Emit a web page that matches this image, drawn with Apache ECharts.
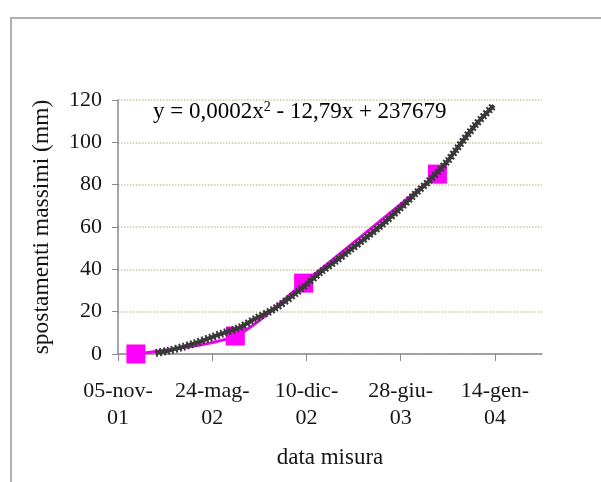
<!DOCTYPE html>
<html>
<head>
<meta charset="utf-8">
<script src="https://cdn.jsdelivr.net/npm/echarts@6/dist/echarts.min.js"></script>
<style>
  html, body { margin: 0; padding: 0; background: #fff; }
  #chart { width: 601px; height: 482px; }
</style>
</head>
<body>
<div id="chart"></div>
<script>
// x values are Excel date serials (37200 = 05-nov-2001)
const misureDate = [37238, 37449, 37594, 37878];
const misureValori = [0, 8.5, 33.5, 85];

// curva di tendenza
const trendDate = [37280, 37306, 37340, 37362, 37400, 37419, 37458, 37490, 37533, 37582,
  37632, 37660, 37692, 37724, 37760, 37795, 37830, 37859, 37901, 37916, 37958, 37998];
const trendValori = [0.5, 1.5, 3.5, 5, 8, 9.5, 12.5, 16.5, 21.5, 29.5,
  39, 43.5, 49, 54.5, 61, 68, 75.5, 81.5, 91.5, 96, 108, 117.5];

const mesi = ['gen', 'feb', 'mar', 'apr', 'mag', 'giu', 'lug', 'ago', 'set', 'ott', 'nov', 'dic'];

function serialToLabel(s) {
  const d = new Date(Date.UTC(1899, 11, 30) + s * 86400000);
  const dd = String(d.getUTCDate()).padStart(2, '0');
  const yy = String(d.getUTCFullYear() % 100).padStart(2, '0');
  return dd + '-' + mesi[d.getUTCMonth()] + '-\n' + yy;
}

const font = "'Liberation Serif', 'Times New Roman', serif";
const testo = '#151515';
const chart = echarts.init(document.getElementById('chart'));

const trendData = trendDate.map((d, i) => [d, trendValori[i]]);

chart.setOption({
  animation: false,
  textStyle: { fontFamily: font },
  grid: { left: 118, right: 59, top: 100, bottom: 128 },
  graphic: [
    {
      type: 'rect',
      shape: { x: 11, y: 18, width: 640, height: 520 },
      style: { fill: 'none', stroke: '#b0b0b0', lineWidth: 2 },
      silent: true
    },
    {
      type: 'text',
      left: 153,
      top: 100,
      style: {
        text: '{t|y = 0,0002x}{s|2}{t| - 12,79x + 237679}',
        rich: {
          t: { fontSize: 23, fontFamily: font, color: testo },
          s: { fontSize: 14, fontFamily: font, color: testo, verticalAlign: 'top', padding: [0, 0, 8, 0] }
        }
      }
    }
  ],
  xAxis: {
    type: 'value',
    min: 37200,
    max: 38100,
    interval: 200,
    name: 'data misura',
    nameLocation: 'middle',
    nameGap: 92,
    nameTextStyle: { fontSize: 23, color: testo, fontFamily: font },
    axisLine: { lineStyle: { color: '#8a8a8a', width: 1.5 } },
    axisTick: { show: true, length: 7, lineStyle: { color: '#8a8a8a' } },
    axisLabel: {
      color: testo,
      fontSize: 22,
      fontFamily: font,
      margin: 24,
      lineHeight: 27,
      showMaxLabel: false,
      formatter: v => (v > 38000 ? '' : serialToLabel(v))
    },
    splitLine: { show: false }
  },
  yAxis: {
    type: 'value',
    min: 0,
    max: 120,
    interval: 20,
    name: 'spostamenti massimi (mm)',
    nameLocation: 'middle',
    nameGap: 64,
    nameTextStyle: { fontSize: 23.5, color: testo, fontFamily: font },
    axisLine: { show: true, lineStyle: { color: '#8a8a8a', width: 1.5 } },
    axisTick: { show: true, length: 6, lineStyle: { color: '#8a8a8a' } },
    axisLabel: { color: testo, fontSize: 22, fontFamily: font, margin: 16 },
    splitLine: { show: true, lineStyle: { color: '#cfc8a0', type: 'dotted', width: 1.5 } }
  },
  series: [
    {
      name: 'misure',
      type: 'line',
      data: misureDate.map((d, i) => [d, misureValori[i]]),
      smooth: 0.25,
      symbol: 'rect',
      symbolSize: 19,
      itemStyle: { color: '#ff00ff' },
      lineStyle: { color: '#ee00ee', width: 3 },
      z: 2
    },
    {
      name: 'tendenza',
      type: 'line',
      data: trendData,
      smooth: 0.3,
      showSymbol: false,
      lineStyle: { color: '#383838', width: 4 },
      z: 3
    },
    {
      name: 'tendenza-bordo',
      type: 'line',
      data: trendData,
      smooth: 0.3,
      showSymbol: false,
      lineStyle: { color: '#3a3a3a', width: 8, type: [2, 2] },
      z: 3
    }
  ]
});
</script>
</body>
</html>
